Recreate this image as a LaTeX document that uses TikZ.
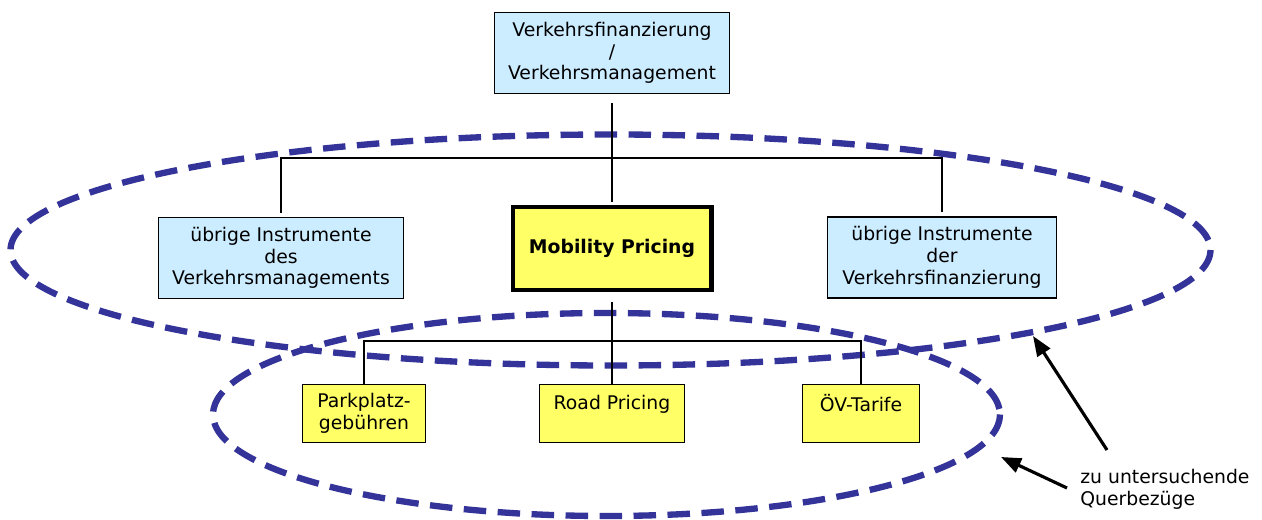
\documentclass[tikz,border=0pt]{standalone}
\usepackage{fontspec}
\setmainfont{DejaVu Sans}
\usepackage{tikz}
\usetikzlibrary{arrows.meta}

\definecolor{boxblue}{RGB}{204,236,255}
\definecolor{boxyellow}{RGB}{255,255,102}
\definecolor{ringblue}{RGB}{51,51,153}

\begin{document}
\begin{tikzpicture}[x=0.02cm,y=-0.02cm,
        every node/.style={font=\fontsize{10.7}{12.4}\selectfont,align=center,inner sep=0pt},
        bluebox/.style={draw,line width=1.1pt,fill=boxblue,minimum height=1.62cm},
        yellowbox/.style={draw,line width=1.1pt,fill=boxyellow,minimum height=1.16cm},
        ring/.style={ringblue,line width=3.6pt,dash pattern=on 0.45cm off 0.23cm},
        conn/.style={line width=1.1pt},
        pointer/.style={line width=1.8pt,-{Triangle[length=0.4cm,width=0.3cm]}}]
        \useasboundingbox (0,0) rectangle (1262,520);

        % groups
        \draw[ring] (610.5,250) ellipse [x radius=600,y radius=115.5];
        \draw[ring] (606.5,414.5) ellipse [x radius=393.5,y radius=101.5];

        % boxes
        \node[bluebox,minimum width=4.7cm] (top) at (612,53) {Verkehrsfinanzierung\\/\\Verkehrsmanagement};
        \node[bluebox,minimum width=4.9cm] (left) at (281,258) {übrige Instrumente\\des\\Verkehrsmanagements};
        \node[draw,line width=2.3pt,fill=boxyellow,minimum width=3.98cm,minimum height=1.66cm,font=\fontsize{10.7}{12.4}\selectfont\bfseries] (mp) at (612,248.5) {Mobility Pricing};
        \node[bluebox,minimum width=4.58cm] (right) at (942,257.5) {übrige Instrumente\\der\\Verkehrsfinanzierung};

        \node[yellowbox,minimum width=2.46cm] (park) at (364,413.5) {Parkplatz-\\gebühren};
        \node[yellowbox,minimum width=2.9cm] (road) at (612,413.5) {Road Pricing\\~};
        \node[yellowbox,minimum width=2.34cm] (oev) at (861,413.5) {ÖV-Tarife\\~};

        % tree
        \coordinate (bar1) at (612,158);
        \coordinate (bar2) at (612,341);
        \draw[conn,shorten <=0.18cm,shorten >=0.06cm] (top.south) -- (mp.north);
        \draw[conn,shorten <=0.08cm,shorten >=0.08cm] (left.north) |- (bar1) -| (right.north);
        \draw[conn,shorten <=0.2cm] (mp.south) -- (road.north);
        \draw[conn] (park.north) |- (bar2) -| (oev.north);

        % note
        \node[align=left,anchor=west] (note) at (1080,489) {zu untersuchende\\Querbezüge};
        \coordinate (tipA) at (1033,336);
        \coordinate (tipB) at (1001,457);
        \draw[pointer] (1107,450) -- (tipA);
        \draw[pointer] (1067,488) -- (tipB);
\end{tikzpicture}
\end{document}
